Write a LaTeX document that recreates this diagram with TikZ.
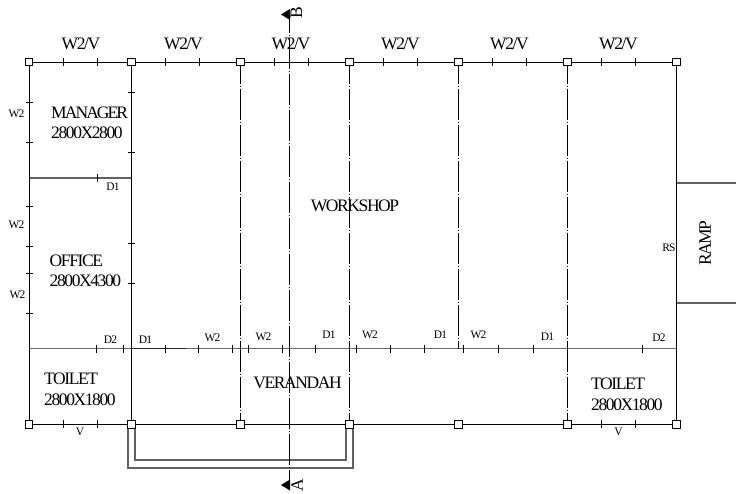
\documentclass[tikz,border=0pt]{standalone}
\usepackage{fontspec}
\setmainfont{Liberation Serif}[LetterSpace=-8]
\newfontfamily\tightfont{Liberation Serif}[LetterSpace=-11]
\tikzset{
  x=1pt,y=-1pt,
  wall/.style={line width=0.9pt,black},
  grayline/.style={line width=1.2pt,black!62},
  midline/.style={line width=1.5pt,black!58},
  tick/.style={line width=0.8pt,black},
  grid/.style={line width=0.8pt,black,dash pattern=on 31pt off 2pt on 1pt off 2pt,dash phase=9.5pt},
  sect/.style={line width=0.8pt,black,dash pattern=on 31pt off 2pt on 1pt off 2pt,dash phase=12.5pt},
  pillar/.style={draw=black,fill=white,line width=0.8pt,minimum size=7.5pt,inner sep=0pt,outer sep=0pt,shape=rectangle},
  big/.style={inner sep=0pt,font=\fontsize{17.5}{20}\selectfont,align=left},
  small/.style={inner sep=0pt,font=\fontsize{11.5}{13}\selectfont}
}
\begin{document}
\begin{tikzpicture}
\useasboundingbox (0,0) rectangle (736,493);
\foreach \n/\x in {a/29,b/131.5,c/240.5,d/349.5,e/458.5,f/567.5,g/676.5}{
  \coordinate (t\n) at (\x,62);
  \coordinate (m\n) at (\x,348.7);
  \coordinate (u\n) at (\x,424.3);
}
\coordinate (secT) at (289.5,14.5);
\coordinate (secB) at (289.5,485);
\coordinate (mgrL) at (29,178);
\coordinate (mgrR) at (131.5,178);
\coordinate (rampA) at (676.5,183);
\coordinate (rampB) at (736,183);
\coordinate (rampC) at (676.5,303);
\coordinate (rampD) at (736,303);
% mid wall and light lines
\draw[midline] (ma) -- (mg);
\draw[line width=1.3pt,black!85] (mb) -- (186,348.7);
\draw[grayline] (mgrL) -- (mgrR);
\draw[grayline] (rampA) -- (rampB);
\draw[grayline] (rampC) -- (rampD);
% steps
\draw[grayline] (128,424.3) |- (353,468) -- (353,424.3);
\draw[grayline] (135,424.3) |- (346,460) -- (346,424.3);
% grid lines
\draw[grid] (tc) -- (uc);
\draw[grid] (td) -- (ud);
\draw[grid] (te) -- (me);
\draw[grid] (tf) -- (uf);
\draw[sect] (secT) -- (secB);
% walls
\draw[wall] (ta) -- (tg) -- (ug) -- (ua) -- cycle;
\draw[wall] (tb) -- (ub);
% top ticks
\foreach \x in {63.5,97.5,165.5,199.5,274.5,308.5,383.5,417.5,492.5,526.5,601.5,635.5}
  \draw[tick] (\x,58) -- (\x,66);
% left wall ticks
\foreach \y in {102,142,206,246,273,313}
  \draw[tick] (25.5,\y) -- (33,\y);
% second wall ticks
\foreach \y in {92,152,243.5,283.5}
  \draw[tick] (128,\y) -- (135,\y);
% partition tick
\draw[tick] (97.5,174) -- (97.5,182);
% mid wall ticks
\foreach \x in {96,123.5,165.5,198.5,232.5,248,282,315.5,356,390,424.3,463.7,498,533.3,642.3}
  \draw[tick] (\x,344.7) -- (\x,352.7);
% bottom ticks
\foreach \x in {63.5,97.5,601.5,635.5}
  \draw[tick] (\x,420.3) -- (\x,428.3);
% pillars
\foreach \n in {a,b,c,d,e,f,g}{
  \node[pillar] (pt\n) at (t\n) {};
  \node[pillar] (pu\n) at (u\n) {};
}
% section arrows
\fill (281,14.5) -- (290,9) -- (290,20) -- cycle;
\fill (281,485) -- (290,479.5) -- (290,490.5) -- cycle;
\node[big,rotate=90] (lblB) at (296.5,12.5) {B};
\node[big,rotate=90] (lblA) at (297,485) {A};
% top labels
\foreach \i/\x in {1/81,2/183.5,3/291,4/400.5,5/509.5,6/618.5}
  \node[big] (top\i) at (\x,44) {W2/V};
% rooms
\node[big,anchor=west] (mgr) at (51,113) {\tightfont MANAGER};
\node[big,anchor=west] (mgr2) at (51,133) {2800X2800};
\node[big,anchor=west] (off) at (49.5,260.5) {OFFICE};
\node[big,anchor=west] (off2) at (49.5,281) {2800X4300};
\node[big,anchor=west] (tl) at (44,379) {TOILET};
\node[big,anchor=west] (tl2) at (44,399.5) {2800X1800};
\node[big,anchor=west] (tr) at (591,384) {TOILET};
\node[big,anchor=west] (tr2) at (591,404.5) {2800X1800};
\node[big] (ws) at (355,206) {WORKSHOP};
\node[big] (ver) at (297.5,382.5) {VERANDAH};
\node[big,rotate=90] (ramp) at (705,243) {RAMP};
% small labels
\foreach \nm/\x/\y/\t in {s1/16.5/114/W2,s2/16.5/225/W2,s3/17.5/295/W2,
  s4/113/186.5/D1,s5/110.5/339.5/D2,s6/145.5/340/D1,s7/212.5/337.5/W2,
  s8/263.5/336.5/W2,s9/329/335/D1,s10/370/335/W2,s11/440.5/335/D1,
  s12/478.5/335/W2,s13/547.5/337/D1,s14/659/338/D2,s15/80/432/V,s16/618.5/432/V,s17/669/248/RS}
  \node[small] (\nm) at (\x,\y) {\t};
\end{tikzpicture}
\end{document}
